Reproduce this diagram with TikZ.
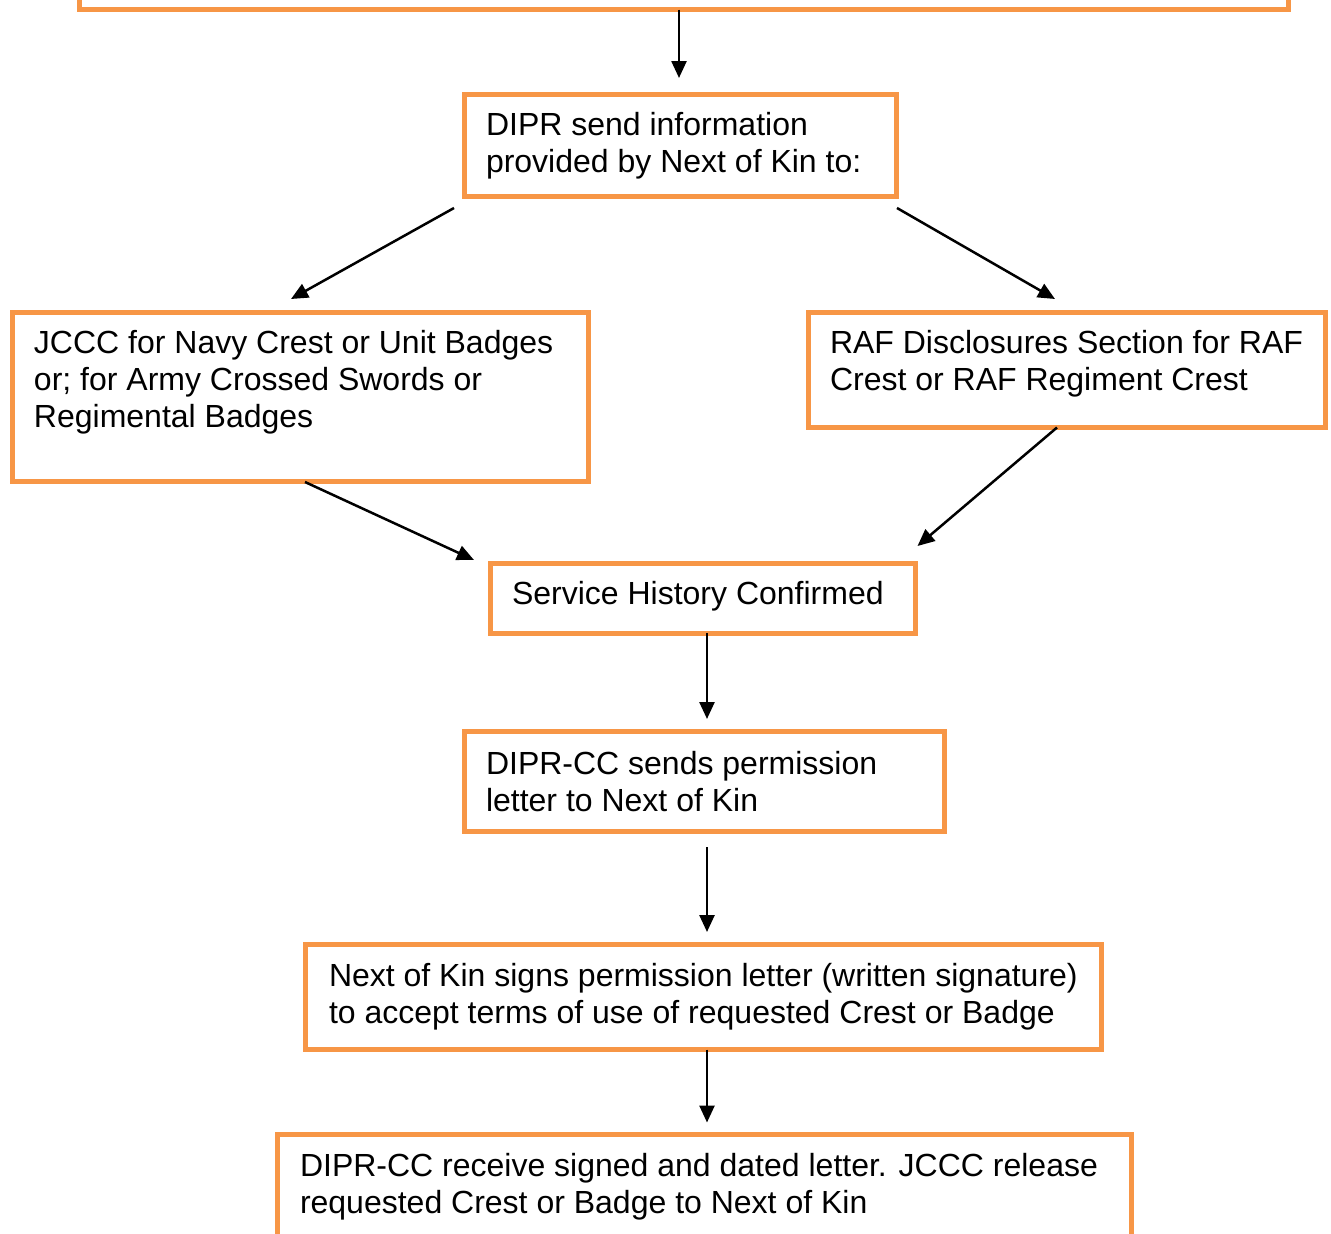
\documentclass[tikz,border=0pt]{standalone}
\usepackage{fontspec}
\setmainfont{Liberation Sans}
\usetikzlibrary{arrows.meta,calc}
\definecolor{boxorange}{HTML}{F79646}
\begin{document}
\begin{tikzpicture}[x=1pt,y=-1pt,
  box/.style={draw=boxorange,line width=5pt,inner sep=0pt,outer sep=0pt,anchor=north west,rectangle},
  txt/.style={anchor=base west,inner sep=0pt,outer sep=0pt,align=left,font=\fontsize{32}{37}\selectfont},
  arr/.style={line width=2.5pt,-{Triangle[width=15pt,length=17pt]}}]
\useasboundingbox (0,0) rectangle (1331,1234);
\clip (0,0) rectangle (1331,1234);
% boxes
\node[box,minimum width=1208.5pt,minimum height=49.5pt] (top) at (79.5,-40) {};
\node[box,minimum width=432pt,minimum height=102pt] (dipr) at (464,94) {};
\node[box,minimum width=576pt,minimum height=169pt] (jccc) at (12,312) {};
\node[box,minimum width=517pt,minimum height=115.5pt] (raf) at (808,312) {};
\node[box,minimum width=425.5pt,minimum height=70pt] (service) at (490,563) {};
\node[box,minimum width=480pt,minimum height=100pt] (dcc) at (464,731) {};
\node[box,minimum width=796pt,minimum height=105.5pt] (nok) at (305.5,944) {};
\node[box,minimum width=854.5pt,minimum height=200pt] (final) at (277,1134.5) {};
% texts (anchor = baseline of last line)
\node[txt] (tdipr) at (486,172) {DIPR send information\\provided by Next of Kin to:};
\node[txt] (tjccc) at (34,427) {JCCC for Navy Crest or Unit Badges\\or; for Army Crossed Swords or\\Regimental Badges};
\node[txt] (traf) at (830,390) {RAF Disclosures Section for RAF\\Crest or RAF Regiment Crest};
\node[txt] (tservice) at (512,604) {Service History Confirmed};
\node[txt] (tdcc) at (486,811) {DIPR-CC sends permission\\letter to Next of Kin};
\node[txt] (tnok) at (329,1023) {Next of Kin signs permission letter (written signature)\\to accept terms of use of requested Crest or Badge};
\node[txt] (tfinal) at (300,1213) {DIPR-CC receive signed and dated letter. JCCC release\\requested Crest or Badge to Next of Kin};
% connectors
\draw[arr] ($(top.south west)+(599.5,0)$) -- ($(dipr.north west)+(215,-16)$);
\draw[arr] ($(dipr.south west)+(-10,12)$) -- ($(jccc.north west)+(279,-13)$);
\draw[arr] ($(dipr.south east)+(1,12)$) -- ($(raf.north west)+(247,-13)$);
\draw[arr] ($(jccc.south west)+(293,1)$) -- ($(service.north west)+(-16,-3)$);
\draw[arr] ($(raf.south west)+(249,0)$) -- ($(service.north east)+(2,-17)$);
\draw[arr] ($(service.south west)+(217,0)$) -- ($(dcc.north west)+(243,-12)$);
\draw[arr] ($(dcc.south west)+(243,16)$) -- ($(nok.north west)+(401.5,-12)$);
\draw[arr] ($(nok.south west)+(401.5,0)$) -- ($(final.north west)+(430,-12)$);
\end{tikzpicture}
\end{document}
